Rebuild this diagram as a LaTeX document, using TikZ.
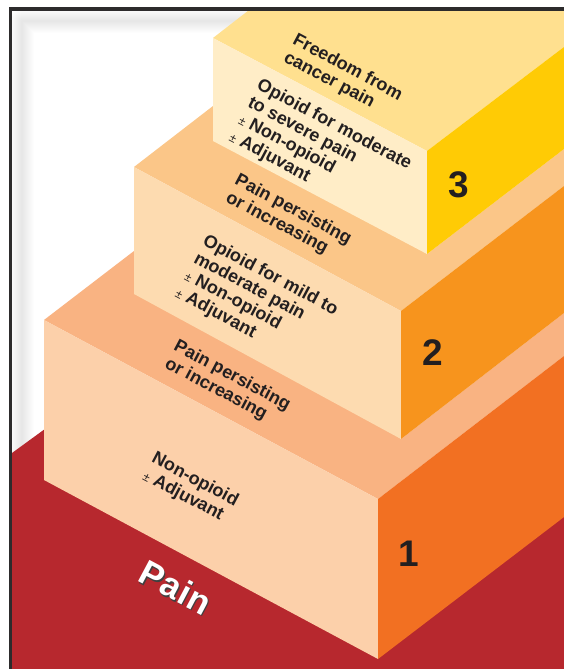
\documentclass[tikz,border=0pt]{standalone}
\usepackage{fontspec}
\setmainfont{Liberation Sans}
\newfontfamily\stepfont{Liberation Sans}
\newfontfamily\painfont{Liberation Sans}[LetterSpace=2]
\definecolor{PainRed}{HTML}{B7282E}
\definecolor{StepOneFront}{HTML}{FCD0AA}
\definecolor{StepOneTop}{HTML}{F9B382}
\definecolor{StepOneSide}{HTML}{F27022}
\definecolor{StepTwoFront}{HTML}{FDDBB0}
\definecolor{StepTwoTop}{HTML}{FBC688}
\definecolor{StepTwoSide}{HTML}{F7941D}
\definecolor{StepThreeFront}{HTML}{FFEDC7}
\definecolor{StepThreeTop}{HTML}{FFE08F}
\definecolor{StepThreeSide}{HTML}{FFCB05}
\definecolor{InkDark}{HTML}{231F20}
\definecolor{FrameGray}{HTML}{2D2B2C}
\newcommand{\stepsize}{\fontsize{18}{19.5}\selectfont}
\newcommand{\pmopt}{{\mdseries\fontsize{12}{12}\selectfont ±}}

\begin{document}
\begin{tikzpicture}[x=1pt, y=-1pt,
    txt/.style={anchor=north west, inner sep=0pt, rotate=-28, align=left,
        text=InkDark, font=\stepfont\bfseries\stepsize},
    num/.style={inner sep=0pt, text=InkDark, font=\bfseries\fontsize{37}{37}\selectfont},
    paintxt/.style={anchor=north west, inner sep=0pt, rotate=-28,
        font=\painfont\bfseries\fontsize{35}{35}\selectfont}
]
\useasboundingbox (0,0) rectangle (564,669);
\fill[white] (0,0) rectangle (564,669);
% soft shade along the inside of the frame
\foreach \w in {2,4,...,24}
    \draw[black, opacity=0.007, line width=\w pt, line join=round] (22,669) -- (22,21) -- (564,21);

% floor
\fill[PainRed] (12,453) -- (60,418) -- (378,600) -- (564,460) -- (564,669) -- (12,669) -- cycle;

% step 1
\fill[StepOneTop] (44,320) -- (134,251) -- (401,439) -- (564,313) -- (564,356) -- (378,499) -- cycle;
\fill[StepOneFront] (44,320) -- (378,499) -- (378,659) -- (44,480) -- cycle;
\fill[StepOneSide] (378,499) -- (564,356) -- (564,517) -- (378,659) -- cycle;

% step 2
\fill[StepTwoTop] (134,167) -- (213,106) -- (427,254) -- (564,149) -- (564,186) -- (401,311) -- cycle;
\fill[StepTwoFront] (134,167) -- (401,311) -- (401,439) -- (134,294) -- cycle;
\fill[StepTwoSide] (401,311) -- (564,186) -- (564,313) -- (401,439) -- cycle;

% step 3
\fill[StepThreeTop] (213,38) -- (262,0) -- (564,0) -- (564,47) -- (427,151) -- cycle;
\fill[StepThreeFront] (213,38) -- (427,151) -- (427,254) -- (213,141) -- cycle;
\fill[StepThreeSide] (427,151) -- (564,47) -- (564,149) -- (427,254) -- cycle;

% frame
\fill[white] (0,0) rectangle (564,8);
\fill[white] (0,0) rectangle (9,669);
\draw[FrameGray, line width=3.5pt] (10.5,669) -- (10.5,9) -- (564,9);

% texts on the steps
\node[txt] (freedom) at (298,32) {Freedom from\\cancer pain};
\node[txt] (strong) at (262,77) {Opioid for moderate\\to severe pain\\\pmopt\ Non-opioid\\\pmopt\ Adjuvant};
\node[txt] (persist2) at (240,172) {Pain persisting\\or increasing};
\node[txt] (weak) at (208,233) {Opioid for mild to\\moderate pain\\\pmopt\ Non-opioid\\\pmopt\ Adjuvant};
\node[txt] (persist1) at (179,338) {Pain persisting\\or increasing};
\node[txt] (mild) at (157,450) {Non-opioid\\\pmopt\ Adjuvant};

\node[num] (three) at (459,185) {3};
\node[num] (two) at (433,353) {2};
\node[num] (one) at (409,554) {1};

\node[paintxt, text=black!75] (painshade) at (149.5,559.5) {Pain};
\node[paintxt, text=white] (pain) at (148,558) {Pain};
\end{tikzpicture}
\end{document}
